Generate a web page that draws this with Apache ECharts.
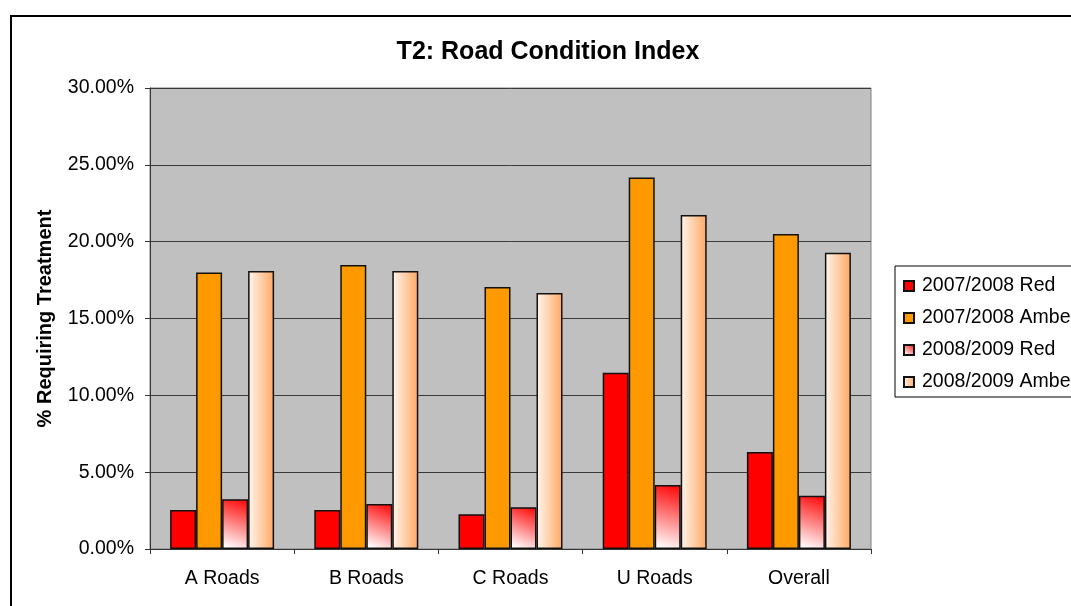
<!DOCTYPE html>
<html>
<head>
<meta charset="utf-8">
<title>T2: Road Condition Index</title>
<script src="https://cdn.jsdelivr.net/npm/echarts@6/dist/echarts.min.js"></script>
<style>
  html, body { margin: 0; padding: 0; background: #fff; }
  #chart { width: 1071px; height: 606px; }
</style>
</head>
<body>
<div id="chart"></div>
<script>
// values (fractions, shown as %)
var categories = ['A Roads', 'B Roads', 'C Roads', 'U Roads', 'Overall'];
var red0708 = [0.0254, 0.0254, 0.0226, 0.1147, 0.0631];
var amber0708 = [0.1800, 0.1848, 0.1705, 0.2418, 0.2050];
var red0809 = [0.0323, 0.0293, 0.0271, 0.0416, 0.0347];
var amber0809 = [0.1809, 0.1809, 0.1666, 0.2173, 0.1928];
var seriesNames = ['2007/2008 Red', '2007/2008 Amber', '2008/2009 Red', '2008/2009 Amber'];

var font = "'Liberation Sans', Arial, sans-serif";
var chart = echarts.init(document.getElementById('chart'));

function bar(name, data, color) {
  return {
    name: name,
    type: 'bar',
    data: data,
    barWidth: 26,
    barGap: '0%',
    itemStyle: { color: color, borderColor: '#111', borderWidth: 1.5 },
    emphasis: { disabled: true }
  };
}

var option = {
  backgroundColor: '#fff',
  animation: false,
  textStyle: { fontFamily: font },
  title: {
    text: 'T2: Road Condition Index',
    left: 548,
    top: 40,
    textAlign: 'center',
    padding: 0,
    textStyle: { fontSize: 25, fontWeight: 'bold', color: '#000', fontFamily: font }
  },
  graphic: [{
    type: 'rect',
    z: -10,
    shape: { x: 11, y: 16, width: 1100, height: 700 },
    style: { fill: 'none', stroke: '#000', lineWidth: 2 }
  }],
  legend: {
    orient: 'vertical',
    left: 895,
    top: 266,
    data: seriesNames,
    icon: 'rect',
    itemWidth: 10,
    itemHeight: 10,
    itemGap: 12,
    padding: [10, 10, 5, 8],
    borderColor: '#000',
    borderWidth: 1,
    backgroundColor: '#fff',
    textStyle: { fontSize: 19.5, lineHeight: 20, color: '#000', fontFamily: font, padding: [0, 0, 0, 3] }
  },
  grid: {
    left: 150, top: 88, width: 721, height: 461,
    show: true,
    backgroundColor: '#C0C0C0',
    borderColor: '#808080',
    borderWidth: 1
  },
  xAxis: {
    type: 'category',
    data: categories,
    axisLine: { lineStyle: { color: '#333', width: 1 } },
    axisTick: { show: true, length: 5, lineStyle: { color: '#333' } },
    axisLabel: { fontSize: 19.5, color: '#000', margin: 20, fontFamily: font }
  },
  yAxis: {
    type: 'value',
    min: 0,
    max: 0.30,
    interval: 0.05,
    name: '% Requiring Treatment',
    nameLocation: 'middle',
    nameGap: 95,
    nameTextStyle: { fontSize: 20, fontWeight: 'bold', color: '#000', fontFamily: font },
    axisLine: { show: true, lineStyle: { color: '#333', width: 1 } },
    axisTick: { show: true, length: 5, lineStyle: { color: '#333' } },
    axisLabel: {
      fontSize: 19.5, color: '#000', margin: 16, fontFamily: font,
      formatter: function (v) { return (v * 100).toFixed(2) + '%'; }
    },
    splitLine: { show: true, lineStyle: { color: '#3a3a3a', width: 1 } }
  },
  series: [
    bar(seriesNames[0], red0708, '#FF0000'),
    bar(seriesNames[1], amber0708, '#FF9900'),
    bar(seriesNames[2], red0809, new echarts.graphic.LinearGradient(1, 0, 0.3, 1, [
      { offset: 0, color: '#FF0000' },
      { offset: 1, color: '#FFFFFF' }
    ])),
    bar(seriesNames[3], amber0809, new echarts.graphic.LinearGradient(0, 0, 1, 0, [
      { offset: 0, color: '#FFF6EF' },
      { offset: 1, color: '#FFA862' }
    ]))
  ]
};

chart.setOption(option);
window.addEventListener('resize', function () {
  chart.resize();
});
</script>
</body>
</html>
